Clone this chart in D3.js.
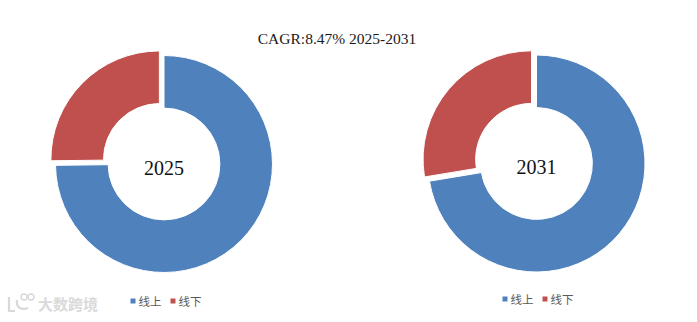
<!DOCTYPE html>
<html>
<head>
<meta charset="utf-8">
<script src="https://cdn.jsdelivr.net/npm/d3@7/dist/d3.min.js"></script>
<style>
  html, body { margin: 0; padding: 0; background: #ffffff; }
  svg { display: block; }
</style>
</head>
<body>
<svg id="chart" width="697" height="322"></svg>
<script>
// Channel split of the market, share in percent
const categories = ["线上", "线下"];
const years = ["2025", "2031"];
const share2025 = [74.8, 25.2];
const share2031 = [72.4, 27.6];
const titleText = "CAGR:8.47% 2025-2031";
const watermarkText = "大数跨境";

const colors = d3.scaleOrdinal().domain(categories).range(["#4F81BD", "#C0504D"]);

const svg = d3.select("#chart");
const W = 697, H = 322;

svg.append("rect").attr("width", W).attr("height", H).attr("fill", "#ffffff");

// Title
svg.append("text")
  .attr("x", 337).attr("y", 44)
  .attr("text-anchor", "middle")
  .attr("font-family", "'Liberation Serif', 'DejaVu Serif', serif")
  .attr("font-size", 15.5)
  .attr("fill", "#1a1a1a")
  .text(titleText);

const pie = d3.pie().sort(null).value(d => d.value)
  .startAngle(0).endAngle(2 * Math.PI);

const outerR = 108.5;
const innerR = outerR * 0.515;
const arc = d3.arc().innerRadius(innerR).outerRadius(outerR);
const explode = 6.5;

const donuts = [
  { year: years[0], values: share2025, cx: 164, cy: 164, legendX: 166, legendY: 301 },
  { year: years[1], values: share2031, cx: 536.5, cy: 163.5, legendX: 538, legendY: 299 }
];

donuts.forEach(dn => {
  const data = categories.map((c, i) => ({ cat: c, value: dn.values[i] }));
  const g = svg.append("g").attr("transform", `translate(${dn.cx},${dn.cy})`);

  g.selectAll("path")
    .data(pie(data))
    .join("path")
    .attr("d", arc)
    .attr("fill", d => colors(d.data.cat))
    .attr("stroke", "#ffffff")
    .attr("stroke-width", 1)
    .attr("transform", (d, i) => {
      if (i === 0) return null;
      const mid = (d.startAngle + d.endAngle) / 2;
      return `translate(${explode * Math.sin(mid)},${-explode * Math.cos(mid)})`;
    });

  g.append("text")
    .attr("x", 0).attr("y", 6)
    .attr("text-anchor", "middle")
    .attr("dominant-baseline", "middle")
    .attr("font-family", "'Liberation Serif', 'DejaVu Serif', serif")
    .attr("font-size", 20)
    .attr("fill", "#111111")
    .text(dn.year);

  // Legend under each donut
  const lg = svg.append("g");
  const items = lg.selectAll("g").data(categories).join("g");
  items.append("rect")
    .attr("width", 5).attr("height", 5)
    .attr("y", -2.5)
    .attr("fill", d => colors(d));
  items.append("text")
    .attr("x", 8).attr("y", 0)
    .attr("dominant-baseline", "central")
    .attr("font-family", "'Noto Sans CJK SC', sans-serif")
    .attr("font-size", 11.5)
    .attr("fill", "#595959")
    .text(d => d);
  let x = 0;
  items.each(function () {
    d3.select(this).attr("transform", `translate(${x},0)`);
    x += this.getBBox().width + 9;
  });
  const total = x - 9;
  lg.attr("transform", `translate(${dn.legendX - total / 2},${dn.legendY})`);
});

// Watermark
const wm = svg.append("g").attr("opacity", 0.9);
wm.append("path")
  .attr("d", "M9,297 L9,311 L15,311 M17,300 C16,306 20,311 28,308")
  .attr("fill", "none").attr("stroke", "#d4d4d4").attr("stroke-width", 2.2);
wm.append("circle").attr("cx", 24).attr("cy", 297).attr("r", 3)
  .attr("fill", "none").attr("stroke", "#d4d4d4").attr("stroke-width", 1.4);
wm.append("circle").attr("cx", 31).attr("cy", 297).attr("r", 3)
  .attr("fill", "none").attr("stroke", "#d4d4d4").attr("stroke-width", 1.4);
wm.append("text")
  .attr("x", 38).attr("y", 310)
  .attr("font-family", "'Noto Sans CJK SC', sans-serif")
  .attr("font-size", 15)
  .attr("font-weight", "bold")
  .attr("fill", "#d6d6d6")
  .text(watermarkText);
</script>
</body>
</html>
